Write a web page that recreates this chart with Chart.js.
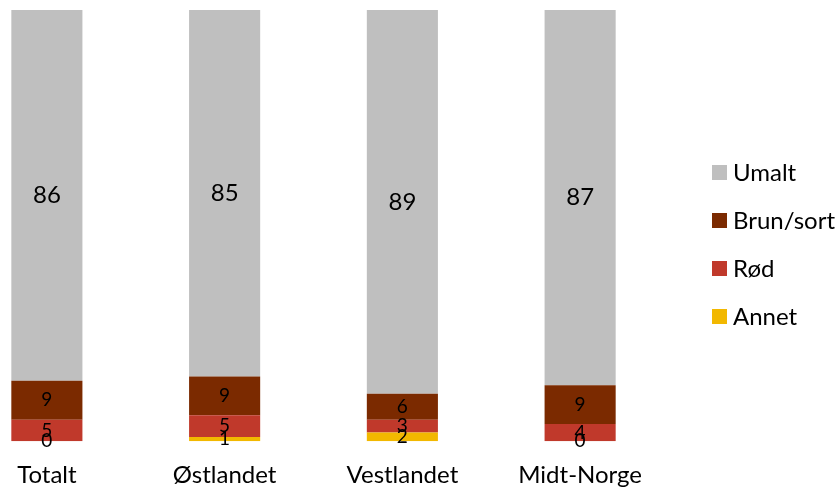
<!DOCTYPE html>
<html>
<head>
<meta charset="utf-8">
<script src="https://cdn.jsdelivr.net/npm/chart.js@4/dist/chart.umd.min.js"></script>
<style>
    body { margin: 0; background: #fff; overflow: hidden; }
    #wrap { position: absolute; left: -42px; top: 0; width: 882px; height: 512px; }
    #legend { position: absolute; left: 712px; top: 158px; font-family: Lato, "Open Sans", sans-serif; font-size: 24px; line-height: 28px; color: #000; }
    #legend div { height: 48px; display: flex; align-items: flex-start; }
    #legend span.box { display: inline-block; width: 15px; height: 15px; margin: 7px 6px 0 0; }
</style>
</head>
<body>
<div id="wrap"><canvas id="chart"></canvas></div>
<div id="legend"></div>
<script>
const categories = ['Totalt', 'Østlandet', 'Vestlandet', 'Midt-Norge'];
const annet = [0, 1, 2, 0];
const rod = [5, 5, 3, 4];
const brunSort = [9, 9, 6, 9];
const umalt = [86, 85, 89, 87];

const colors = {
    umalt: '#BFBFBF',
    brun: '#7B2A00',
    rod: '#C0392B',
    annet: '#F2B800'
};

const fontFamily = 'Lato, "Open Sans", sans-serif';

// labels drawn in the middle of each segment
const segmentLabels = {
    id: 'segmentLabels',
    afterDatasetsDraw(chart) {
        const ctx = chart.ctx;
        ctx.save();
        ctx.fillStyle = '#000';
        ctx.textAlign = 'center';
        ctx.textBaseline = 'middle';
        chart.data.datasets.forEach(function(ds, i) {
            const meta = chart.getDatasetMeta(i);
            const size = i === 3 ? 24 : 19;
            ctx.font = size + 'px ' + fontFamily;
            meta.data.forEach(function(bar, j) {
                const y = (bar.y + bar.base) / 2;
                ctx.fillText(String(ds.data[j]), bar.x, y);
            });
        });
        ctx.restore();
    }
};

const ctx = document.getElementById('chart').getContext('2d');
const chart = new Chart(ctx, {
    type: 'bar',
    data: {
        labels: categories,
        datasets: [
            { label: 'Annet', data: annet, backgroundColor: colors.annet },
            { label: 'Rød', data: rod, backgroundColor: colors.rod },
            { label: 'Brun/sort', data: brunSort, backgroundColor: colors.brun },
            { label: 'Umalt', data: umalt, backgroundColor: colors.umalt }
        ]
    },
    options: {
        responsive: true,
        maintainAspectRatio: false,
        animation: false,
        layout: { padding: { top: 10, right: 171, left: 0, bottom: 2 } },
        datasets: { bar: { categoryPercentage: 1, barPercentage: 0.4, borderWidth: 0 } },
        plugins: {
            legend: { display: false },
            tooltip: { enabled: false }
        },
        scales: {
            x: {
                stacked: true,
                grid: { display: false, drawTicks: false },
                border: { display: false },
                ticks: { color: '#000', padding: 20, font: { family: fontFamily, size: 24 } }
            },
            y: {
                stacked: true,
                display: false,
                min: 0,
                max: 100
            }
        }
    },
    plugins: [segmentLabels]
});

// legend, top item first
const legendItems = [
    ['Umalt', colors.umalt],
    ['Brun/sort', colors.brun],
    ['Rød', colors.rod],
    ['Annet', colors.annet]
];
const legend = document.getElementById('legend');
legendItems.forEach(function(item) {
    const row = document.createElement('div');
    const box = document.createElement('span');
    box.className = 'box';
    box.style.background = item[1];
    row.appendChild(box);
    row.appendChild(document.createTextNode(item[0]));
    legend.appendChild(row);
});
</script>
</body>
</html>
